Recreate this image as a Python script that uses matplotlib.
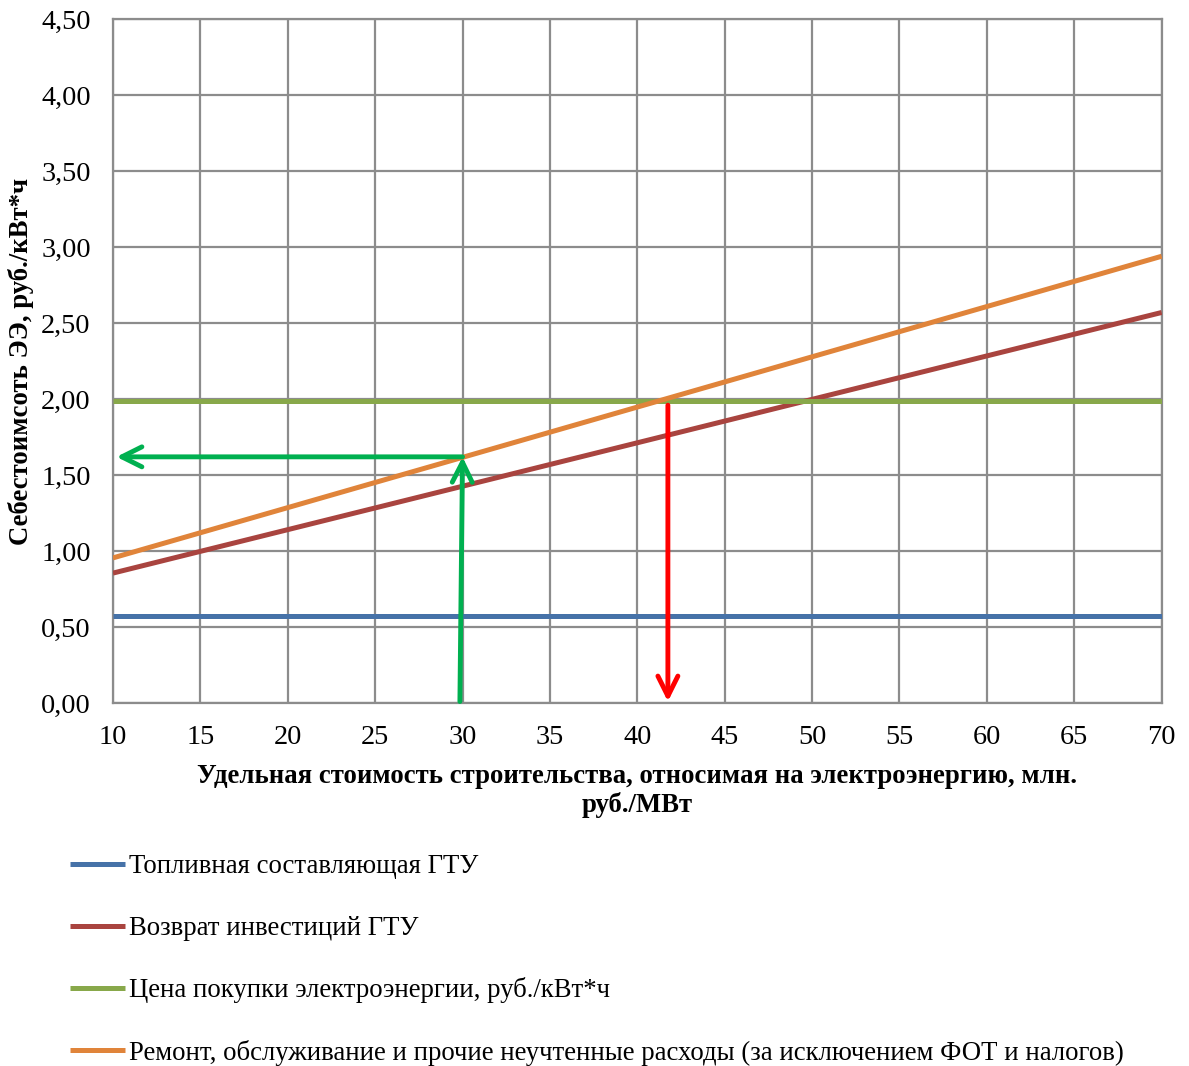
import matplotlib.pyplot as plt

plt.rcParams['font.family'] = ['Liberation Serif', 'DejaVu Serif']

# data
x = [10, 70]
fuel = [0.57, 0.57]
invest = [0.855, 2.57]
price = [1.99, 1.99]
repair = [0.955, 2.94]

labels = ['Топливная составляющая ГТУ',
          'Возврат инвестиций ГТУ',
          'Цена покупки электроэнергии, руб./кВт*ч',
          'Ремонт, обслуживание и прочие неучтенные расходы (за исключением ФОТ и налогов)']
colors = ['#4672A8', '#A9443F', '#88A84A', '#E0843A']

xticks = list(range(10, 71, 5))
yticks = [0, 0.5, 1.0, 1.5, 2.0, 2.5, 3.0, 3.5, 4.0, 4.5]

# arrows: green (read-off) and red (break-even)
green_up = ((29.85, 0.01), (30.0, 1.62))
green_left = ((30.0, 1.62), (10.2, 1.62))
red_down = ((41.75, 1.96), (41.75, 0.01))

fig = plt.figure(figsize=(11.89, 10.66), dpi=100)
ax = fig.add_axes([0.095, 0.3405, 0.882, 0.6415])

for ys, c, lab in zip([fuel, invest, price, repair], colors, labels):
    ax.plot(x, ys, color=c, lw=3.6, label=lab, solid_capstyle='butt', zorder=3)

for (a, b), c in [(green_up, '#00B050'), (green_left, '#00B050'), (red_down, '#FF0000')]:
    ax.annotate('', xy=b, xytext=a,
                arrowprops=dict(arrowstyle='->', color=c, lw=3.5,
                                mutation_scale=36, shrinkA=0, shrinkB=0),
                zorder=4)

ax.set_xlim(10, 70)
ax.set_ylim(0, 4.5)
ax.set_xticks(xticks)
ax.set_yticks(yticks)
ax.set_yticklabels([f'{v:.2f}'.replace('.', ',') for v in yticks])
ax.tick_params(length=0, labelsize=20.3, pad=16)
ax.grid(True, color='#8C8C8C', lw=1.6)
ax.set_axisbelow(True)
for s in ax.spines.values():
    s.set_color('#8C8C8C')
    s.set_linewidth(1.6)

ax.set_xlabel('Удельная стоимость строительства, относимая на электроэнергию, млн.\nруб./МВт',
              fontsize=19.3, fontweight='bold', labelpad=10, linespacing=1.15)
ax.set_ylabel('Себестоимсоть ЭЭ, руб./кВт*ч', fontsize=19.3, fontweight='bold', labelpad=5)

fig.legend(loc='upper left', bbox_to_anchor=(0.0495, 0.2085), frameon=False,
           fontsize=19.3, handlelength=2.08, handletextpad=0.12, labelspacing=1.36,
           borderaxespad=0)

fig.savefig('out.png', dpi=100)
